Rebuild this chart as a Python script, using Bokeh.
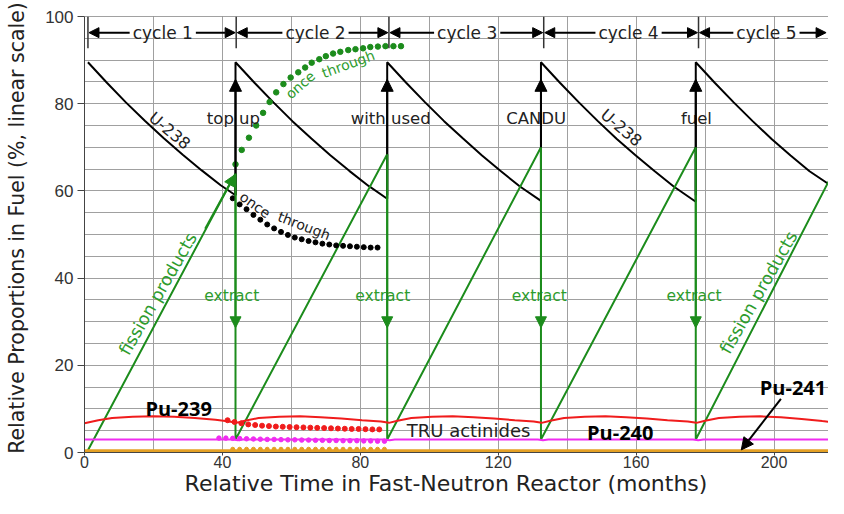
from bokeh.plotting import figure
from bokeh.models import Range1d, FixedTicker, Span, Arrow, NormalHead
from bokeh.core.properties import value
from bokeh.embed import file_html
from bokeh.resources import INLINE

# ---------------- data ----------------
x_ticks = [0, 40, 80, 120, 160, 200]
y_ticks = [0, 20, 40, 60, 80, 100]
cycle_labels = ["cycle 1", "cycle 2", "cycle 3", "cycle 4", "cycle 5"]
cycle_marks = [1, 44, 88.3, 133.2, 178.1]
reload_t = [43.8, 87.8, 132.4, 177.3]

# U-238 (solid black, including the vertical top-ups)
u238_t = [1, 6.5, 12, 17.5, 23, 28.5, 34, 39.5, 43.8,
          43.8, 49.3, 54.8, 60.3, 65.8, 71.3, 76.8, 82.3, 87.8,
          87.8, 93.3, 98.8, 104.3, 109.8, 115.3, 120.8, 126.3, 132.4,
          132.4, 137.9, 143.4, 148.9, 154.4, 159.9, 165.4, 170.9, 177.3,
          177.3, 182.8, 188.3, 193.8, 199.3, 204.8, 210.3, 215.8, 218]
u238_pct = [89.5, 84.8, 80.3, 76.1, 72.1, 68.3, 64.7, 61.3, 59.0,
            89.5, 84.8, 80.3, 76.0, 72.0, 68.2, 64.6, 61.2, 58.2,
            89.5, 84.8, 80.3, 76.0, 72.0, 68.1, 64.5, 61.0, 57.7,
            89.5, 84.8, 80.3, 76.0, 71.9, 68.1, 64.5, 61.0, 57.5,
            89.5, 84.8, 80.3, 76.0, 71.9, 68.1, 64.5, 61.6, 60.8]
# fission products (solid green, including the extract drops)
fp_t = [1, 43.8, 43.8, 87.8, 87.8, 132.4, 132.4, 177.3, 177.3, 218]
fp_pct = [0.5, 64.0, 3.0, 68.4, 3.0, 70.0, 3.0, 70.0, 3.0, 65.5]
fp_top = [64.0, 68.4, 70.0, 70.0]

# once-through curves (dotted)
fp_ot_t = [43.8, 45.6, 47.7, 49.8, 51.8, 53.7, 55.6, 57.7, 59.8, 62.0, 64.0, 65.9, 68.1, 70.0,
           72.1, 74.2, 76.5, 78.6, 80.8, 82.9, 85.1, 87.3, 89.6, 91.8]
fp_ot = [66.1, 69.4, 72.2, 75.0, 77.9, 80.4, 82.6, 84.5, 86.0, 87.2, 88.3, 89.4, 90.2, 90.9,
         91.5, 91.9, 92.3, 92.5, 92.7, 93.0, 93.1, 93.2, 93.2, 93.2]
u238_ot_t = [43, 45, 47, 49, 51, 53, 55, 57, 59, 61, 63, 65, 67, 69, 71, 73, 75, 77, 79, 81, 83, 85]
u238_ot = [58.3, 56.9, 55.8, 54.5, 53.4, 52.3, 51.4, 50.6, 49.9, 49.3, 48.9, 48.5, 48.2, 47.9,
           47.7, 47.5, 47.4, 47.3, 47.2, 47.1, 47.0, 47.0]
pu239_ot_t = [41.5, 43.5, 45.5, 47.5, 49.5, 51.5, 53.5, 55.5, 57.5, 59.5, 61.5, 63.5, 65.5, 67.5,
              69.5, 71.5, 73.5, 75.5, 77.5, 79.5, 81.5, 83.5, 85.5]
pu239_ot = [7.4, 7.0, 6.7, 6.45, 6.3, 6.15, 6.05, 5.95, 5.9, 5.85, 5.8, 5.75, 5.7, 5.65,
            5.6, 5.55, 5.5, 5.45, 5.4, 5.4, 5.35, 5.3, 5.3]
pu240_ot_t = [39, 41, 43, 45, 47, 49, 51, 53, 55, 57, 59, 61, 63, 65, 67, 69, 71, 73, 75, 77,
              79, 81, 83, 85, 87]
pu240_ot = [3.3, 3.3, 3.25, 3.2, 3.15, 3.1, 3.05, 3.0, 3.0, 2.95, 2.9, 2.9, 2.85, 2.85, 2.8,
            2.8, 2.75, 2.75, 2.7, 2.7, 2.7, 2.65, 2.65, 2.6, 2.6]
pu241_ot_t = [43, 45, 47, 49, 51, 53, 55, 57, 59, 61, 63, 65, 67, 69, 71, 73, 75, 77, 79, 81,
              83, 85, 87]
pu241_ot = [0.75] * 23

# plutonium isotopes (solid)
pu239_t = [0, 4, 8, 14, 20, 26, 32, 38, 42, 44, 46.5, 50.5, 56.5, 62.5, 68.5, 74.5, 80.5, 86,
           88.3, 90.8, 94.8, 100.8, 106.8, 112.8, 118.8, 124.8, 130.3, 132.6, 135.1, 139.1,
           145.1, 151.1, 157.1, 163.1, 169.1, 175, 177.5, 180, 184, 190, 196, 202, 208, 214, 218]
pu239 = [6.7, 7.4, 7.9, 8.2, 8.3, 8.2, 7.9, 7.5, 7.1, 6.8, 7.3, 7.9, 8.2, 8.3, 8.1, 7.8, 7.4,
         7.1, 6.8, 7.3, 7.9, 8.2, 8.3, 8.1, 7.8, 7.4, 7.1, 6.8, 7.3, 7.9, 8.2, 8.3, 8.1, 7.8,
         7.4, 7.1, 6.8, 7.3, 7.9, 8.2, 8.3, 8.1, 7.7, 7.2, 6.9]
pu240_t = [0, 43, 44.5, 46, 87, 88.5, 90, 131.5, 133, 134.5, 176.5, 178, 179.5, 218]
pu240 = [3.0, 3.0, 2.8, 3.0, 3.0, 2.8, 3.0, 3.0, 2.8, 3.0, 3.0, 2.8, 3.0, 3.0]
pu241_t = [0, 218]
pu241 = [0.3, 0.3]

# ---------------- styling ----------------
GREEN = "#1c8c1c"
GREEN_TXT = "#2e9c2e"
RED = "#f01c1c"
MAGENTA = "#f02cf0"
ORANGE = "#e4a024"
GRID = "#a0a0a0"
DJ = value("DejaVu Sans")
NB = "\u00a0"

p = figure(width=828, height=498, output_backend="svg", toolbar_location=None,
           x_range=Range1d(0, 215.8), y_range=Range1d(0, 100),
           min_border_left=84, min_border_right=0, min_border_top=16, min_border_bottom=46,
           background_fill_color="white", border_fill_color="white")
p.outline_line_color = None

p.xgrid.ticker = FixedTicker(ticks=list(range(0, 221, 20)))
p.ygrid.ticker = FixedTicker(ticks=list(range(0, 101, 5)))
for g in (p.xgrid, p.ygrid):
    g.grid_line_color = GRID
    g.grid_line_width = 1

p.xaxis.ticker = FixedTicker(ticks=x_ticks)
p.yaxis.ticker = FixedTicker(ticks=y_ticks)
for ax in (p.xaxis, p.yaxis):
    ax.axis_line_color = "#444444"
    ax.major_tick_line_color = "#444444"
    ax.major_tick_in = 0
    ax.minor_tick_out = 0
    ax.minor_tick_in = 0
    ax.major_label_text_font = "Liberation Sans"
    ax.major_label_text_color = "#333333"
    ax.axis_label_text_font = "DejaVu Sans"
    ax.axis_label_text_font_style = "normal"
    ax.axis_label_text_color = "#222222"
p.yaxis.major_label_text_font_size = "17px"
p.xaxis.major_label_text_font_size = "16px"
p.xaxis.major_tick_out = 3
p.xaxis.major_label_standoff = 0
p.yaxis.major_tick_out = 7
p.yaxis.major_label_standoff = 4
# no-break spaces nudge the centred titles to where the reference has them
p.yaxis.axis_label = NB * 2 + "Relative Proportions in Fuel (%, linear scale)"
p.yaxis.axis_label_text_font_size = "20.5px"
p.yaxis.axis_label_standoff = 13
p.xaxis.axis_label = "Relative Time in Fast-Neutron Reactor (months)" + NB * 3
p.xaxis.axis_label_text_font_size = "22px"
p.xaxis.axis_label_standoff = 0

p.add_layout(Span(location=100, dimension="width", line_color="#444444", line_width=1))

# ---------------- series ----------------
p.line(u238_t, u238_pct, line_color="black", line_width=2)
p.line(fp_t, fp_pct, line_color=GREEN, line_width=2)
p.line(pu241_t, pu241, line_color=ORANGE, line_width=4)
p.line(pu240_t, pu240, line_color=MAGENTA, line_width=2)
p.line(pu239_t, pu239, line_color=RED, line_width=2)

p.scatter(fp_ot_t, fp_ot, size=5.5, color=GREEN)
p.scatter(u238_ot_t, u238_ot, size=5, color="black")
p.scatter(pu239_ot_t, pu239_ot, size=5, color=RED)
p.scatter(pu240_ot_t, pu240_ot, size=4.5, color=MAGENTA)
p.scatter(pu241_ot_t, pu241_ot, size=4, color=ORANGE)

# ---------------- arrows ----------------
def arrow(x0, y0, x1, y1, color, size, lw=2):
    p.add_layout(Arrow(end=NormalHead(size=size, fill_color=color, line_color=color, line_width=1),
                       x_start=x0, y_start=y0, x_end=x1, y_end=y1,
                       line_color=color, line_width=lw))

# top-up arrows (black, pointing up)
for t in reload_t:
    arrow(t, 59, t, 85.6, "black", 12)
# extract arrows (green, pointing down)
for t, top in zip(reload_t, fp_top):
    arrow(t, top, t, 28.6, GREEN, 11)
# arrowhead at end of first fission-product ramp
arrow(35.0, 51.3, 43.6, 63.7, GREEN, 11)
# Pu-241 pointer
arrow(202.0, 12.3, 190.5, 0.6, "black", 12)

# cycle header
label_centers = [22.7, 67.0, 111.0, 157.8, 197.8]
ends = cycle_marks[1:] + [215.4]
p.segment(x0=cycle_marks, y0=[100] * 5, x1=cycle_marks, y1=[92.7] * 5,
          line_color="#333333", line_width=1.5)
for c, a, b in zip(label_centers, cycle_marks, ends):
    arrow(c - 9.6, 96.3, a + 0.3, 96.3, "black", 10)
    arrow(c + 9.6, 96.3, b - 0.3, 96.3, "black", 10)
p.text(x=label_centers, y=[96.3] * 5, text=cycle_labels, text_font=DJ, text_font_size="17px",
       text_color="#222222", text_align="center", text_baseline="middle")

# ---------------- texts ----------------
def txt(x, y, s, size, color="#222222", angle=0.0, font=DJ, style="normal", baseline="middle"):
    p.text(x=[x], y=[y], text=[s], text_font=font, text_font_size=size, text_color=color,
           text_align="center", text_baseline=baseline, angle=angle, text_font_style=style)

for x, s in zip([43.2, 88.8, 131.0, 177.5], ["top up", "with used", "CANDU", "fuel"]):
    txt(x, 76.5, s, "16.5px", baseline="alphabetic")
for x in [42.7, 86.5, 131.9, 176.8]:
    txt(x, 35.9, "extract", "15.5px", GREEN_TXT, baseline="alphabetic")

txt(24.7, 73.8, "U-238", "16px", angle=-0.70)
txt(155.7, 74.5, "U-238", "16px", angle=-0.70)
txt(21.3, 36.4, "fission products", "17.5px", GREEN_TXT, angle=1.05)
txt(195.5, 36.7, "fission products", "17.5px", GREEN_TXT, angle=1.05)
txt(62.6, 84.3, "once", "14px", GREEN_TXT, angle=0.72)
txt(76.5, 89.1, "through", "14px", GREEN_TXT, angle=0.35)
txt(49.5, 56.8, "once", "14px", "#222222", angle=-0.63)
txt(63.7, 52.0, "through", "14px", "#222222", angle=-0.37)
txt(111.4, 5.0, "TRU actinides", "18px")

OS = value("Open Sans")
txt(27.3, 10.0, "Pu-239", "20px", "black", font=OS, style="bold")
txt(155.4, 4.5, "Pu-240", "20px", "black", font=OS, style="bold")
txt(205.5, 15.0, "Pu-241", "20px", "black", font=OS, style="bold")

open("out.html", "w").write(file_html(p, INLINE))
